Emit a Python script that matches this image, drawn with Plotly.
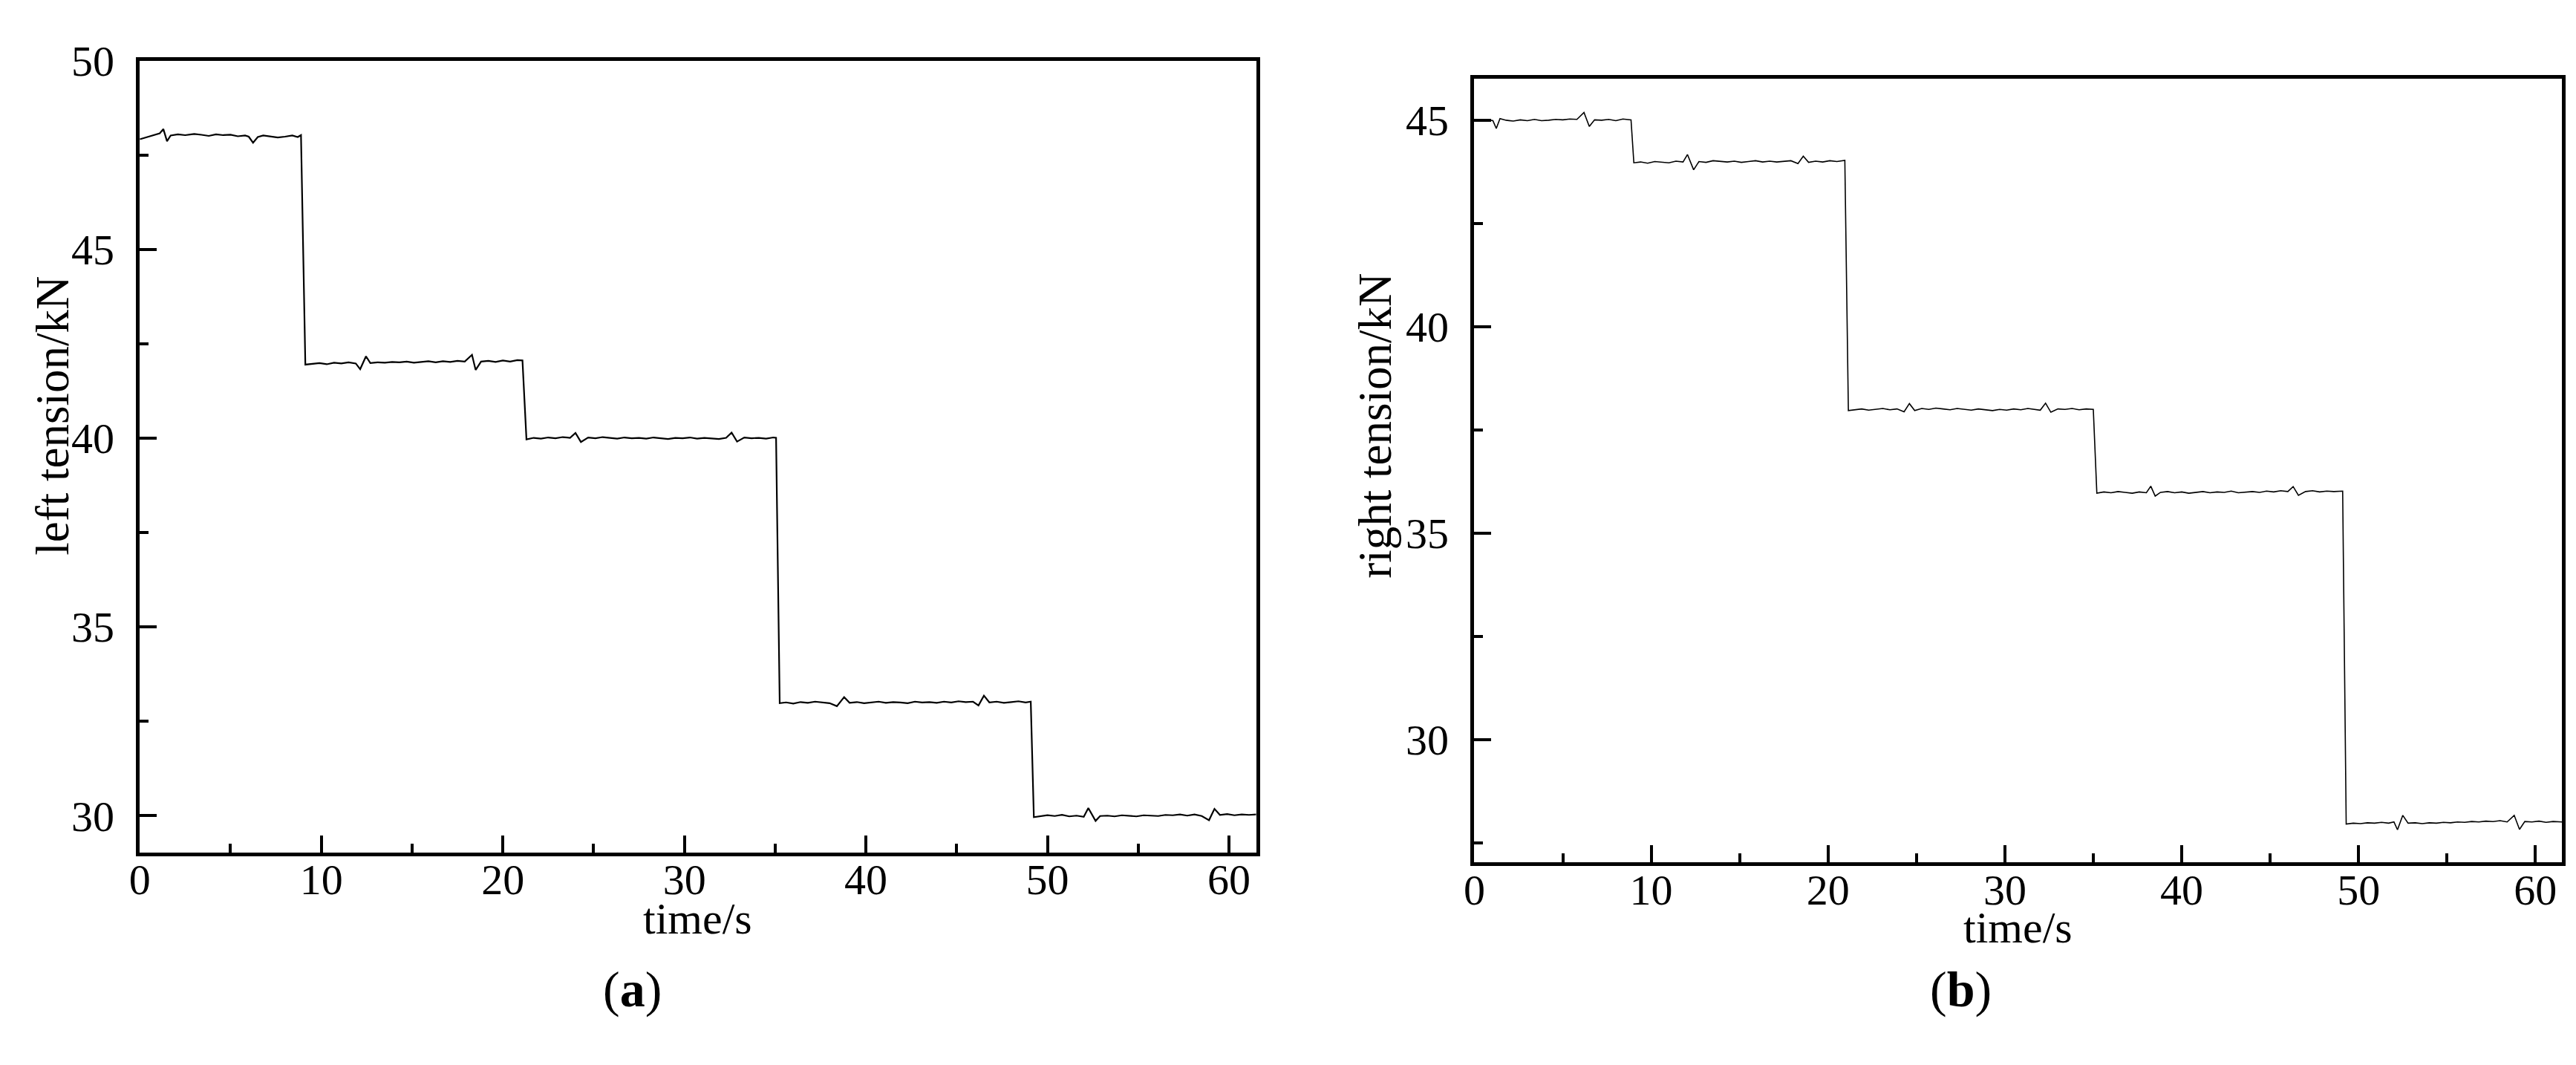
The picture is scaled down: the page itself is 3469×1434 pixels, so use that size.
import plotly.graph_objects as go

# --- left tension (kN) vs time (s), one list per plateau ---
left_t1 = [0.0, 0.4, 0.8, 1.1, 1.3, 1.5, 1.7, 2.1, 2.5, 3.0, 3.4, 3.8, 4.2, 4.6, 5.0, 5.4,
           5.8, 6.0, 6.24, 6.5, 6.8, 7.2, 7.6, 8.0, 8.4, 8.7, 8.88]
left_v1 = [47.92, 47.98, 48.03, 48.08, 48.19, 47.87, 48.02, 48.05, 48.03, 48.06, 48.04, 48.01,
           48.05, 48.03, 48.04, 48.00, 48.02, 47.99, 47.83, 47.98, 48.02, 47.99, 47.97, 47.99,
           48.02, 47.98, 48.03]
left_t2 = [9.12, 9.5, 9.9, 10.3, 10.7, 11.1, 11.5, 11.9, 12.14, 12.46, 12.7, 13.1, 13.5, 13.9,
           14.3, 14.7, 15.1, 15.5, 15.9, 16.3, 16.7, 17.1, 17.5, 17.9, 18.3, 18.5, 18.8, 19.2,
           19.6, 20.0, 20.4, 20.8, 21.08]
left_v2 = [41.95, 41.97, 41.99, 41.96, 42.00, 41.98, 42.01, 41.98, 41.83, 42.17, 41.99, 42.01,
           42.00, 42.02, 42.01, 42.03, 42.00, 42.02, 42.04, 42.01, 42.04, 42.02, 42.05, 42.03,
           42.21, 41.81, 42.03, 42.05, 42.02, 42.06, 42.03, 42.07, 42.06]
left_t3 = [21.3, 21.7, 22.1, 22.5, 22.9, 23.3, 23.7, 24.0, 24.3, 24.7, 25.1, 25.5, 25.9, 26.3,
           26.7, 27.1, 27.5, 27.9, 28.3, 28.7, 29.1, 29.5, 29.9, 30.3, 30.7, 31.1, 31.5, 31.9,
           32.3, 32.6, 32.9, 33.3, 33.7, 34.1, 34.5, 34.9, 35.05]
left_v3 = [39.97, 40.01, 39.99, 40.02, 40.00, 40.03, 40.01, 40.14, 39.90, 40.02, 40.00, 40.03,
           40.01, 39.99, 40.02, 40.00, 40.01, 39.99, 40.02, 40.00, 39.98, 40.01, 40.00, 40.02,
           39.99, 40.01, 40.00, 39.98, 40.01, 40.15, 39.91, 40.02, 40.00, 40.01, 39.99, 40.02,
           40.01]
left_t4 = [35.25, 35.6, 36.0, 36.4, 36.8, 37.2, 37.6, 38.0, 38.4, 38.8, 39.1, 39.5, 39.9, 40.3,
           40.7, 41.1, 41.5, 41.9, 42.3, 42.7, 43.1, 43.5, 43.9, 44.3, 44.7, 45.1, 45.5, 45.9,
           46.2, 46.5, 46.8, 47.2, 47.6, 48.0, 48.4, 48.8, 49.08]
left_v4 = [32.98, 33.00, 32.97, 33.01, 32.99, 33.02, 33.00, 32.98, 32.90, 33.14, 32.99, 33.01,
           32.98, 33.00, 33.02, 32.99, 33.01, 33.00, 32.98, 33.02, 33.00, 33.01, 32.99, 33.02,
           33.00, 33.03, 33.01, 33.02, 32.92, 33.18, 33.00, 33.02, 32.99, 33.01, 33.03, 33.00,
           33.02]
left_t5 = [49.25, 49.6, 50.0, 50.4, 50.8, 51.2, 51.6, 52.0, 52.25, 52.65, 52.9, 53.3, 53.7, 54.1,
           54.5, 54.9, 55.3, 55.7, 56.1, 56.5, 56.9, 57.3, 57.7, 58.1, 58.5, 58.9, 59.2, 59.5,
           59.9, 60.3, 60.7, 61.1, 61.5]
left_v5 = [29.96, 29.98, 30.01, 29.99, 30.02, 29.98, 30.00, 29.97, 30.20, 29.86, 29.99, 30.00,
           29.98, 30.01, 29.99, 29.98, 30.01, 30.00, 29.99, 30.02, 30.01, 30.03, 30.00, 30.03,
           29.99, 29.88, 30.18, 30.02, 30.04, 30.01, 30.03, 30.02, 30.03]

# --- right tension (kN) vs time (s) ---
right_t1 = [0.0, 0.4, 0.8, 1.05, 1.24, 1.45, 1.8, 2.2, 2.6, 3.0, 3.4, 3.8, 4.2, 4.6, 5.0, 5.4,
            5.8, 6.2, 6.5, 6.8, 7.2, 7.6, 8.0, 8.4, 8.86]
right_v1 = [45.00, 44.98, 45.01, 44.99, 44.80, 45.04, 45.00, 44.98, 45.01, 44.99, 45.02, 44.99,
            45.00, 45.02, 45.01, 45.03, 45.02, 45.19, 44.85, 45.01, 45.00, 45.02, 44.99, 45.03,
            45.01]
right_t2 = [9.02, 9.4, 9.8, 10.2, 10.6, 11.0, 11.4, 11.8, 12.05, 12.4, 12.7, 13.1, 13.5, 13.9,
            14.3, 14.7, 15.1, 15.5, 15.9, 16.3, 16.7, 17.1, 17.5, 17.9, 18.3, 18.6, 18.9, 19.3,
            19.7, 20.1, 20.5, 20.95]
right_v2 = [43.97, 43.99, 43.96, 44.00, 43.98, 43.97, 44.01, 43.99, 44.17, 43.80, 44.00, 43.98,
            44.02, 44.00, 43.99, 44.01, 43.98, 44.00, 44.02, 43.99, 44.01, 43.99, 44.00, 44.02,
            43.95, 44.13, 43.98, 44.01, 43.99, 44.02, 44.00, 44.03]
right_t3 = [21.15, 21.5, 21.9, 22.3, 22.7, 23.1, 23.5, 23.9, 24.3, 24.6, 24.9, 25.3, 25.7, 26.1,
            26.5, 26.9, 27.3, 27.7, 28.1, 28.5, 28.9, 29.3, 29.7, 30.1, 30.5, 30.9, 31.3, 31.7,
            32.0, 32.3, 32.6, 33.0, 33.4, 33.8, 34.2, 34.6, 35.0]
right_v3 = [37.97, 37.99, 38.01, 37.98, 38.00, 38.02, 37.99, 38.01, 37.94, 38.14, 37.97, 38.02,
            38.00, 38.03, 38.01, 37.99, 38.02, 38.00, 37.98, 38.01, 37.99, 37.97, 38.00, 37.98,
            38.01, 37.99, 38.02, 38.00, 37.98, 38.15, 37.93, 38.01, 38.00, 38.02, 37.99, 38.01,
            38.00]
right_t4 = [35.2, 35.6, 36.0, 36.4, 36.8, 37.2, 37.6, 38.0, 38.25, 38.5, 38.8, 39.2, 39.6, 40.0,
            40.4, 40.8, 41.2, 41.6, 42.0, 42.4, 42.8, 43.2, 43.6, 44.0, 44.4, 44.8, 45.2, 45.6,
            46.0, 46.3, 46.6, 47.0, 47.4, 47.8, 48.2, 48.6, 49.1]
right_v4 = [35.97, 36.00, 35.98, 36.01, 35.99, 35.97, 36.00, 35.98, 36.14, 35.90, 35.99, 36.01,
            35.98, 36.00, 35.97, 35.99, 36.01, 35.98, 36.00, 35.99, 36.02, 35.98, 36.00, 36.01,
            35.99, 36.02, 36.00, 36.03, 36.01, 36.13, 35.92, 36.01, 36.03, 36.00, 36.02, 36.01,
            36.02]
right_t5 = [49.3, 49.7, 50.1, 50.5, 50.9, 51.3, 51.7, 52.0, 52.2, 52.5, 52.8, 53.2, 53.6, 54.0,
            54.4, 54.8, 55.2, 55.6, 56.0, 56.4, 56.8, 57.2, 57.6, 58.0, 58.4, 58.8, 59.1, 59.4,
            59.8, 60.2, 60.6, 61.0, 61.5]
right_v5 = [27.96, 27.98, 27.97, 27.99, 27.98, 28.00, 27.98, 28.01, 27.82, 28.17, 27.98, 27.99,
            27.97, 27.99, 27.98, 28.00, 27.99, 28.01, 28.00, 28.02, 28.01, 28.03, 28.02, 28.04,
            28.01, 28.17, 27.83, 28.02, 28.01, 28.03, 28.00, 28.02, 28.01]

left_time = left_t1 + left_t2 + left_t3 + left_t4 + left_t5
left_tension = left_v1 + left_v2 + left_v3 + left_v4 + left_v5
right_time = right_t1 + right_t2 + right_t3 + right_t4 + right_t5
right_tension = right_v1 + right_v2 + right_v3 + right_v4 + right_v5

W, H = 3469, 1434
FONT = "Liberation Serif, Times New Roman, serif"

fig = go.Figure()
fig.add_trace(go.Scatter(x=left_time, y=left_tension, mode="lines",
                         line=dict(color="black", width=2.2), xaxis="x", yaxis="y"))
fig.add_trace(go.Scatter(x=right_time, y=right_tension, mode="lines",
                         line=dict(color="black", width=1.6), xaxis="x2", yaxis="y2"))

def ax(dom, rng, dtick, minor, standoff):
    return dict(
        domain=dom, range=rng, dtick=dtick, tick0=0,
        showline=True, linecolor="black", linewidth=4.5, mirror=True,
        ticks="inside", ticklen=23, tickwidth=4, tickcolor="black",
        minor=dict(ticks="inside", ticklen=12, tickwidth=4, tickcolor="black", dtick=minor),
        showgrid=False, zeroline=False,
        tickfont=dict(family=FONT, size=58, color="black"),
        ticklabelstandoff=standoff,
    )

fig.update_layout(
    width=W, height=H,
    margin=dict(l=0, r=0, t=0, b=0),
    paper_bgcolor="white", plot_bgcolor="white",
    showlegend=False,
    xaxis=ax([174 / W, 1684 / W], [0, 61.5], 10, 5, -18),
    yaxis=ax([1 - 1141 / H, 1 - 51 / H], [29.03, 50], 5, 2.5, 18),
    xaxis2=ax([1979 / W, 3450 / W], [0, 61.5], 10, 5, -18),
    yaxis2=ax([1 - 1155 / H, 1 - 76 / H], [27.03, 46.0], 5, 2.5, 18),
)
fig.update_layout(yaxis2=dict(anchor="x2"), xaxis2=dict(anchor="y2"))

notes = [
    ("left tension/kN", 56, 540, -90, 63),
    ("right tension/kN", 1845, 554, -90, 63),
    ("time/s", 929, 1232, 0, 60),
    ("time/s", 2714, 1245, 0, 60),
]
for text, px, py, ang, size in notes:
    fig.add_annotation(text=text, x=px / W, y=1 - py / H, xref="paper", yref="paper",
                       showarrow=False, textangle=ang,
                       font=dict(family=FONT, size=size, color="black"),
                       xanchor="center", yanchor="middle")
for text, px, py in [("(<b>a</b>)", 840, 1330), ("(<b>b</b>)", 2637, 1330)]:
    fig.add_annotation(text=text, x=px / W, y=1 - py / H, xref="paper", yref="paper",
                       showarrow=False, font=dict(family=FONT, size=68, color="black"),
                       xanchor="center", yanchor="middle")

# page body has a default 8px margin; drop it so the figure sits at the window origin
fig.write_html("out.html", config={"displayModeBar": False},
               post_script="document.body.style.margin='0';")
